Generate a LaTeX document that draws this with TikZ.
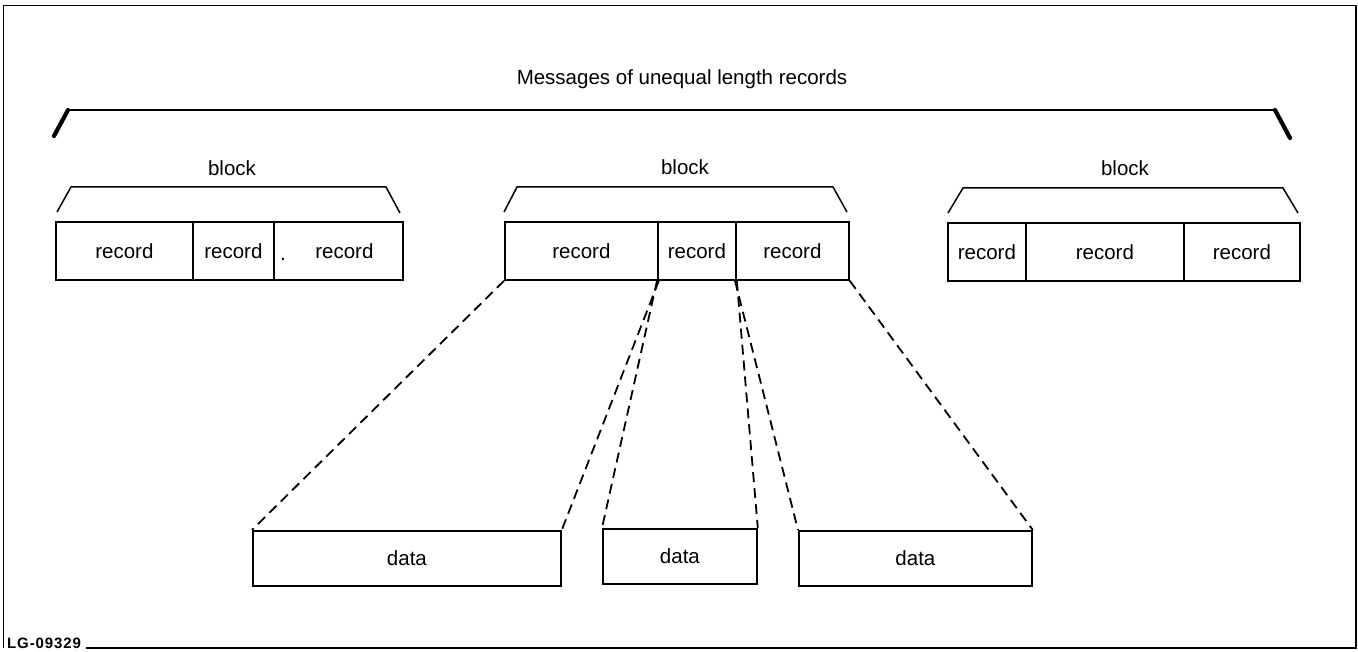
\documentclass[tikz,border=0pt]{standalone}
\usepackage{fontspec}
\setmainfont{Liberation Sans}
\begin{document}
\begin{tikzpicture}[x=1pt,y=-1pt,
  every node/.style={font=\fontsize{20.5}{24}\selectfont},
  cell/.style={draw, line width=1.8pt, inner sep=0pt, anchor=north west, minimum height=58pt},
  databox/.style={draw, line width=1.8pt, inner sep=0pt, anchor=north west, minimum height=55pt},
  brace/.style={line width=1.5pt, line join=miter},
  bigbrace/.style={line width=2.4pt},
  bigleg/.style={line width=4.2pt, line cap=round},
  link/.style={line width=1.8pt, dash pattern=on 10pt off 6pt},
  frame/.style={line width=1.3pt}]
\useasboundingbox (0,0) rectangle (1358,652);

% outer frame, open at the lower left for the drawing number
\draw[frame] (86,648) -- (1356,648) -- (1356,5.5) -- (3.5,5.5) -- (3.5,648);
\node[anchor=south west, inner sep=0pt,
      font=\bfseries\fontsize{15}{17}\selectfont\addfontfeature{LetterSpace=6}] (num) at (7,649) {LG-09329};

% heading and its large brace
\node (title) at (682,79) {Messages of unequal length records};
\draw[bigbrace] (67,110) -- (1276,110);
\draw[bigleg] (68,110) -- (54,136);
\draw[bigleg] (1275,110) -- (1290,138);

% left block
\node (lb) at (232,168) {block};
\draw[brace] (57,212) -- (71,187) -- (386,187) -- (400,213);
\node[cell, minimum width=137pt] (l1) at (55,221) {record};
\node[cell, minimum width=81pt] (l2) at (192,221) {record};
\node[cell, minimum width=129pt] (l3) at (273,221) {\hspace{12pt}record};
\node[inner sep=0pt] (dot) at (283,259) {.};

% middle block
\node (mb) at (685,167) {block};
\draw[brace] (504,212) -- (517,187) -- (833,187) -- (847,212);
\node[cell, minimum width=153pt] (m1) at (504,221) {record};
\node[cell, minimum width=78pt] (m2) at (657,221) {record};
\node[cell, minimum width=113pt] (m3) at (735,221) {record};

% right block
\node (rb) at (1125,168) {block};
\draw[brace] (948,213) -- (963,188) -- (1283,188) -- (1298,213);
\node[cell, minimum width=78pt] (r1) at (947,222) {record};
\node[cell, minimum width=158pt] (r2) at (1025,222) {record};
\node[cell, minimum width=116pt] (r3) at (1183,222) {record};

% data areas of the middle block's records
\node[databox, minimum width=308pt] (d1) at (252,530) {data};
\node[databox, minimum width=154pt] (d2) at (602,528) {data};
\node[databox, minimum width=233pt] (d3) at (798,530) {data};

% dashed leaders from each record to its data
\draw[link] (m1.south west) -- (d1.north west);
\draw[link] (m1.south east) -- (d1.north east);
\draw[link] (m2.south west) -- (d2.north west);
\draw[link] (m2.south east) -- (d2.north east);
\draw[link] (m3.south west) -- (d3.north west);
\draw[link] (m3.south east) -- (d3.north east);
\end{tikzpicture}
\end{document}
